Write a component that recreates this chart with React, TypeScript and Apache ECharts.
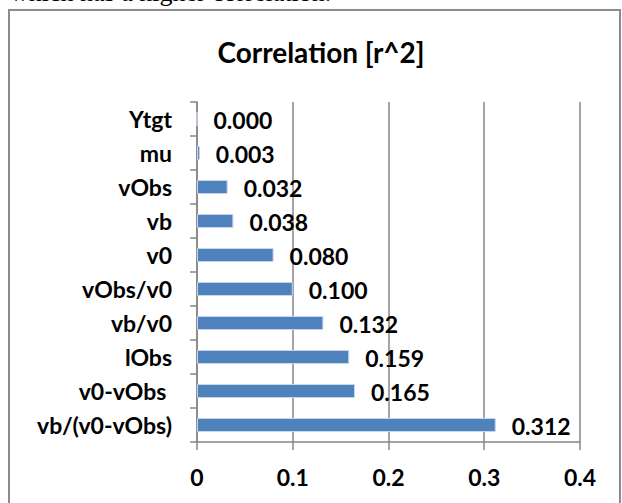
import React, { useEffect, useRef } from "react";
import * as echarts from "echarts";

const categories = ["Ytgt", "mu", "vObs", "vb", "v0", "vObs/v0", "vb/v0", "lObs", "v0-vObs ", "vb/(v0-vObs)"];
const values = [0.0, 0.003, 0.032, 0.038, 0.08, 0.1, 0.132, 0.159, 0.165, 0.312];
const titleText = "Correlation [r^2]";
const aboveText = "which has a higher correlation.";

export default function App() {
  const ref = useRef<HTMLDivElement>(null);
  useEffect(() => {
    if (!ref.current) return;
    const chart = echarts.init(ref.current, null, { renderer: "svg" });
    const font = "Lato";
    chart.setOption({
      animation: false,
      backgroundColor: "#ffffff",
      title: {
        text: titleText,
        left: 316,
        top: 33,
        textAlign: "center",
        textStyle: { fontFamily: font, fontWeight: "bold", fontSize: 28, color: "#000" },
      },
      graphic: [
        {
          type: "text",
          left: 10,
          top: -21,
          style: { text: aboveText, font: "26px 'Liberation Serif'", fill: "#000" },
        },
        {
          type: "rect",
          shape: { x: 9, y: 10, width: 611, height: 520 },
          style: { fill: "none", stroke: "#8c8c8c", lineWidth: 2 },
          silent: true,
        },
      ],
      grid: { left: 197, right: 42, top: 102, bottom: 61, containLabel: false },
      xAxis: {
        type: "value",
        min: 0,
        max: 0.4,
        interval: 0.1,
        axisLine: { show: true, lineStyle: { color: "#868686", width: 1.5 } },
        axisTick: { show: true, length: 8, lineStyle: { color: "#868686", width: 1.5 } },
        splitLine: { show: true, lineStyle: { color: "#868686", width: 1.5 } },
        axisLabel: {
          margin: 23,
          fontFamily: font,
          fontWeight: "bold",
          fontSize: 23,
          color: "#000",
          formatter: (v: number) => (v === 0 ? "0" : String(Math.round(v * 10) / 10)),
        },
      },
      yAxis: {
        type: "category",
        data: categories,
        inverse: true,
        axisLine: { show: true, lineStyle: { color: "#868686", width: 1.5 } },
        axisTick: { show: true, length: 7, lineStyle: { color: "#868686", width: 1.5 } },
        axisLabel: {
          margin: 25,
          fontFamily: font,
          fontWeight: "bold",
          fontSize: 23,
          color: "#000",
        },
      },
      series: [
        {
          type: "bar",
          data: values,
          barWidth: 14,
          itemStyle: { color: "#4f81bd", borderColor: "#c5d5ea", borderWidth: 1 },
          label: {
            show: true,
            position: "right",
            distance: 16,
            offset: [0, 1],
            fontFamily: font,
            fontWeight: "bold",
            fontSize: 23,
            color: "#000",
            formatter: (p: any) => Number(p.value).toFixed(3),
          },
        },
      ],
    });
    return () => chart.dispose();
  }, []);
  return (
    <div
      ref={ref}
      style={{ position: "absolute", left: 0, top: 0, width: 622, height: 503 }}
    />
  );
}
